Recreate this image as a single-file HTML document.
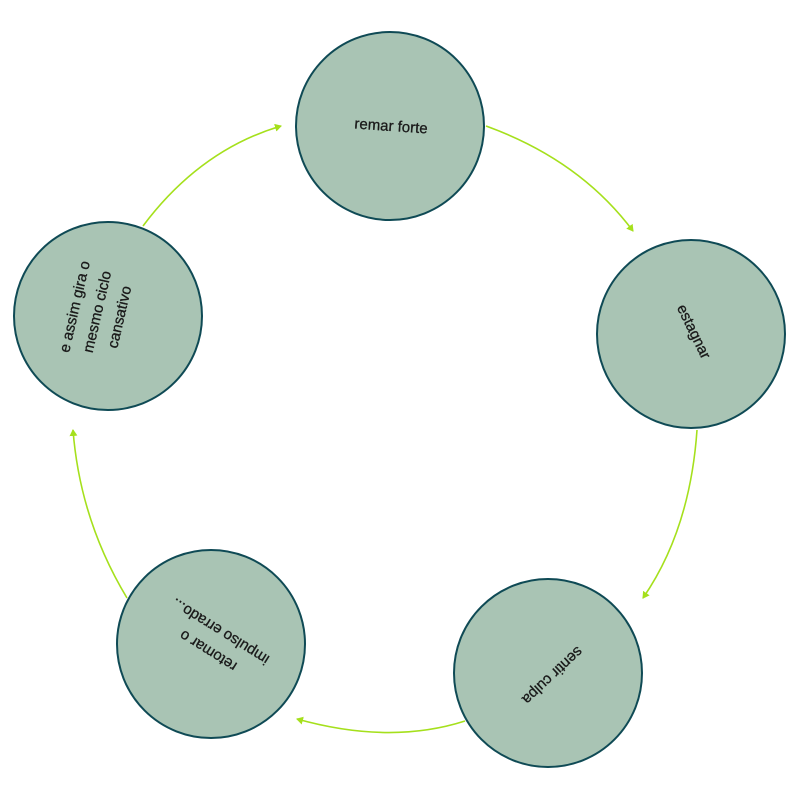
<!DOCTYPE html>
<html><head><meta charset="utf-8"><style>html,body{margin:0;padding:0;background:#fff}</style></head>
<body>
<svg width="800" height="800" viewBox="0 0 800 800" xmlns="http://www.w3.org/2000/svg" font-family="Liberation Sans, sans-serif" font-size="15" fill="#1a1a1a">
<defs><marker id="a" markerWidth="8" markerHeight="8" refX="6" refY="4" orient="auto" markerUnits="userSpaceOnUse"><path d="M0,0 L7,4 L0,8 z" fill="#a5e01c"/></marker></defs>
<g fill="none" stroke="#a5e01c" stroke-width="1.6" marker-end="url(#a)">
<path d="M143,226 Q200,150 281,126"/>
<path d="M486,126 Q580,160 633,231"/>
<path d="M697,430 Q690,530 643,598"/>
<path d="M465,721 Q390,745 297,719"/>
<path d="M127,598 Q80,520 73,430"/>
</g>
<g fill="#a9c4b4" stroke="#0f4a55" stroke-width="2">
<circle cx="390" cy="126" r="94"/>
<circle cx="691" cy="334" r="94"/>
<circle cx="548" cy="673" r="94"/>
<circle cx="211" cy="644" r="94"/>
<circle cx="108" cy="316" r="94"/>
</g>
<g text-anchor="middle" stroke="#1a1a1a" stroke-width="0.3">
<text transform="translate(391,127) rotate(4)" dominant-baseline="middle">remar forte</text>
<text transform="translate(693,332) rotate(64)" dominant-baseline="middle">estagnar</text>
<text transform="translate(552,675) rotate(137)" dominant-baseline="middle">sentir culpa</text>
<g transform="translate(215,640) rotate(212)">
<text y="-8">retomar o</text>
<text y="15">impulso errado...</text>
</g>
<g transform="translate(98,312) rotate(-77)">
<text y="-19">e assim gira o</text>
<text y="4">mesmo ciclo</text>
<text y="27">cansativo</text>
</g>
</g>
</svg>
</body></html>
